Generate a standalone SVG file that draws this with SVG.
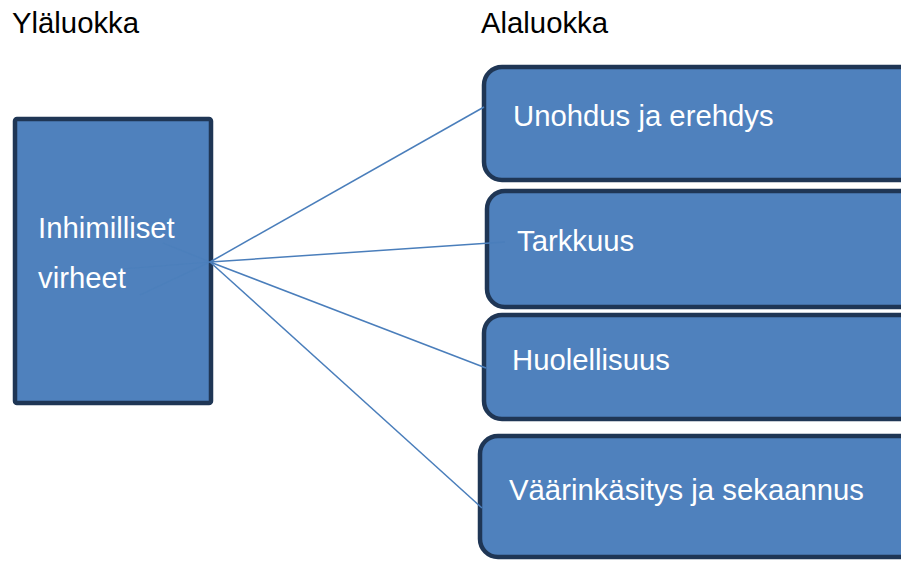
<svg xmlns="http://www.w3.org/2000/svg" width="901" height="561" viewBox="0 0 901 561">
<style>
.box{fill:#4F81BD;stroke:#1F3655;stroke-width:4.5}
.t{font-family:"Liberation Sans",Arial,sans-serif;font-size:29.3px;fill:#FFFFFF}
.h{font-family:"Liberation Sans",Arial,sans-serif;font-size:29.3px;fill:#000000}
.c{stroke:#4A7EBB;stroke-width:1.5;fill:none}
.ci{stroke:#4A7EBB;stroke-width:1.2;fill:none;opacity:0.6}
</style>
<rect width="901" height="561" fill="#FFFFFF"/>
<text class="h" x="12" y="33">Yläluokka</text>
<text class="h" x="481" y="33">Alaluokka</text>
<g id="ylaluokka">
<rect class="box" x="15" y="119" width="196" height="284" rx="2"/>
<text class="t" x="38" y="238">Inhimilliset</text>
<text class="t" x="38" y="288">virheet</text>
</g>
<g id="unohdus">
<rect class="box" x="484" y="67" width="440" height="113" rx="18"/>
<text class="t" x="513" y="126">Unohdus ja erehdys</text>
</g>
<g id="tarkkuus">
<rect class="box" x="487" y="191" width="437" height="116" rx="18"/>
<text class="t" x="517" y="251">Tarkkuus</text>
</g>
<g id="huolellisuus">
<rect class="box" x="484" y="315" width="440" height="104" rx="18"/>
<text class="t" x="512" y="370">Huolellisuus</text>
</g>
<g id="vaarinkasitys">
<rect class="box" x="480" y="436" width="444" height="121" rx="18"/>
<text class="t" x="509" y="500">Väärinkäsitys ja sekaannus</text>
</g>
<g id="connectors">
<line class="c" x1="210" y1="262" x2="484" y2="107"/>
<line class="c" x1="210" y1="262" x2="505" y2="242"/>
<line class="c" x1="210" y1="262" x2="486" y2="368"/>
<line class="c" x1="210" y1="262" x2="482" y2="508"/>
<line class="ci" x1="210" y1="262" x2="163" y2="243"/>
<line class="ci" x1="210" y1="262" x2="122" y2="269"/>
<line class="ci" x1="210" y1="262" x2="140" y2="295"/>
</g>
</svg>
